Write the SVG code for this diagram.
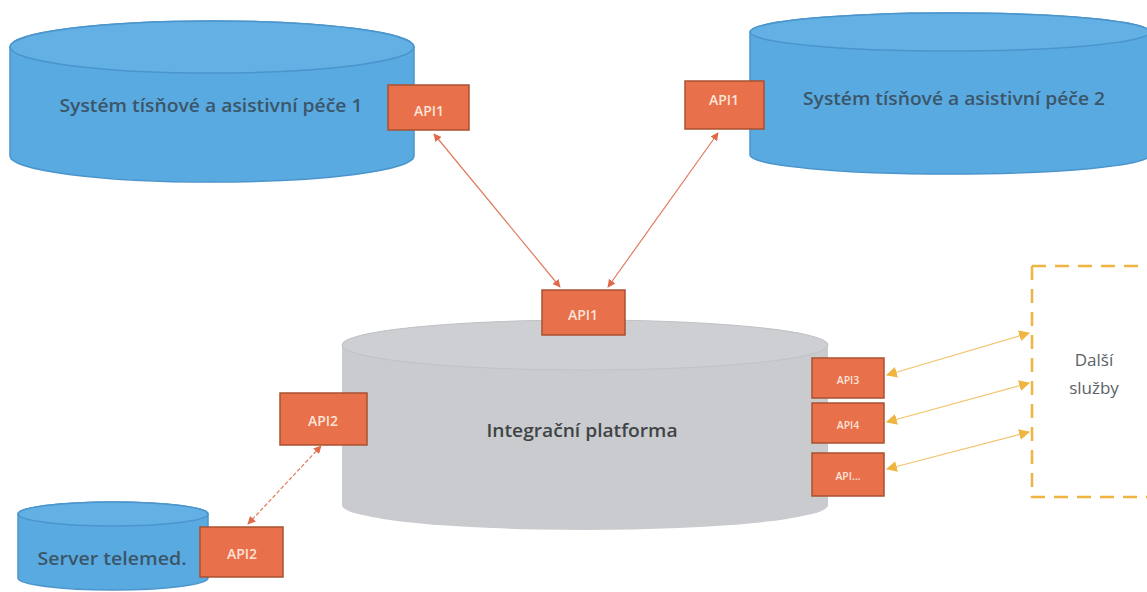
<svg xmlns="http://www.w3.org/2000/svg" width="1147" height="592" viewBox="0 0 1147 592">
<style>
.blue{fill:#5aaae2;stroke:#4b95cc;stroke-width:1.5}
.bluetop{fill:#63b0e5;stroke:#4b95cc;stroke-width:1.5}
.gray{fill:#c9cbce}
.graytop{fill:#cdcfd2;stroke:#c0c3c6;stroke-width:1}
.api{fill:#e8704a;stroke:#a9512f;stroke-width:1.5}
.apit{font-family:"Open Sans","Liberation Sans",sans-serif;fill:#fde3d8;text-anchor:middle;font-size:14px;font-weight:600}
.apis{font-family:"Open Sans","Liberation Sans",sans-serif;fill:#fde3d8;text-anchor:middle;font-size:10.5px;font-weight:600}
.lbl{font-family:"Open Sans","Liberation Sans",sans-serif;fill:#3a5668;text-anchor:middle;font-size:18px;font-weight:600}
.plat{font-family:"Open Sans","Liberation Sans",sans-serif;fill:#3f4446;text-anchor:middle;font-size:18px;font-weight:600}
.dal{font-family:"Open Sans","Liberation Sans",sans-serif;fill:#5a6266;text-anchor:middle;font-size:17px}
.c1{stroke:#e07a5c;stroke-width:1.2;fill:none}
.c2{stroke:#f2c36c;stroke-width:1.2;fill:none}
</style>
<defs>
<marker id="ar" viewBox="0 0 10 10" refX="9" refY="5" markerWidth="8" markerHeight="8" orient="auto-start-reverse" markerUnits="userSpaceOnUse"><path d="M0,0 L10,5 L0,10 Z" fill="#e06a48"/></marker>
<marker id="ay" viewBox="0 0 10 10" refX="9" refY="5" markerWidth="11" markerHeight="11" orient="auto-start-reverse" markerUnits="userSpaceOnUse"><path d="M0,0 L10,5 L0,10 Z" fill="#f0b541"/></marker>
</defs>

<g id="sys1">
<path class="blue" d="M10,47 A202,26 0 0 1 414,47 L414,156 A202,26 0 0 1 10,156 Z"/>
<ellipse class="bluetop" cx="212" cy="47" rx="202" ry="26"/>
<text class="lbl" x="211" y="112" textLength="303" lengthAdjust="spacingAndGlyphs">Systém tísňové a asistivní péče 1</text>
</g>
<g id="sys1-api1">
<rect class="api" x="388" y="85" width="81" height="45"/>
<text class="apit" x="429" y="116">API1</text>
</g>

<g id="sys2">
<path class="blue" d="M750,32 A200,19 0 0 1 1150,32 L1150,155 A200,19 0 0 1 750,155 Z"/>
<ellipse class="bluetop" cx="950" cy="32" rx="200" ry="19"/>
<text class="lbl" x="954" y="105" textLength="302" lengthAdjust="spacingAndGlyphs">Systém tísňové a asistivní péče 2</text>
</g>
<g id="sys2-api1">
<rect class="api" x="685" y="81" width="79" height="48"/>
<text class="apit" x="724" y="105">API1</text>
</g>

<g id="platform">
<path class="gray" d="M342,345 A243,25 0 0 1 828,345 L828,505 A243,25 0 0 1 342,505 Z"/>
<ellipse class="graytop" cx="585" cy="345" rx="243" ry="25"/>
<text class="plat" x="582" y="437" textLength="191" lengthAdjust="spacingAndGlyphs">Integrační platforma</text>
</g>
<g id="plat-api1">
<rect class="api" x="542" y="290" width="83" height="45"/>
<text class="apit" x="583" y="320">API1</text>
</g>
<g id="plat-api2">
<rect class="api" x="280" y="393" width="87" height="52"/>
<text class="apit" x="323" y="426">API2</text>
</g>
<g id="plat-api3">
<rect class="api" x="812" y="358" width="72" height="40"/>
<text class="apis" x="848" y="384">API3</text>
</g>
<g id="plat-api4">
<rect class="api" x="812" y="403" width="72" height="40"/>
<text class="apis" x="848" y="429">API4</text>
</g>
<g id="plat-apix">
<rect class="api" x="812" y="453" width="72" height="43"/>
<text class="apis" x="848" y="480">API…</text>
</g>

<g id="server">
<path class="blue" d="M18,514 A95,12 0 0 1 208,514 L208,578 A95,12 0 0 1 18,578 Z"/>
<ellipse class="bluetop" cx="113" cy="514" rx="95" ry="12"/>
<text class="lbl" x="112" y="565" textLength="149" lengthAdjust="spacingAndGlyphs">Server telemed.</text>
</g>
<g id="server-api2">
<rect class="api" x="200" y="527" width="83" height="50"/>
<text class="apit" x="242" y="559">API2</text>
</g>

<g id="dalsi">
<path d="M1032,266 L1032,497 L1150,497 M1032,266 L1150,266" fill="none" stroke="#f0b541" stroke-width="2.5" stroke-dasharray="14,9"/>
<text class="dal" x="1094" y="366">Další</text>
<text class="dal" x="1094" y="394">služby</text>
</g>

<g id="connectors">
<line class="c1" x1="434" y1="134" x2="560" y2="287" marker-start="url(#ar)" marker-end="url(#ar)"/>
<line class="c1" x1="718" y1="133" x2="608" y2="287" marker-start="url(#ar)" marker-end="url(#ar)"/>
<line class="c1" x1="248" y1="524" x2="321" y2="446" stroke-dasharray="4,2" marker-start="url(#ar)" marker-end="url(#ar)"/>
<line class="c2" x1="887" y1="375" x2="1029" y2="333" marker-start="url(#ay)" marker-end="url(#ay)"/>
<line class="c2" x1="887" y1="422" x2="1029" y2="383" marker-start="url(#ay)" marker-end="url(#ay)"/>
<line class="c2" x1="887" y1="469" x2="1029" y2="432" marker-start="url(#ay)" marker-end="url(#ay)"/>
</g>
</svg>
